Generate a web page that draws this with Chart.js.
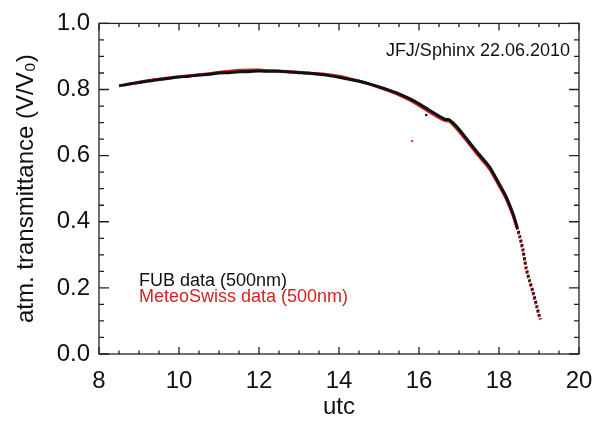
<!DOCTYPE html>
<html>
<head>
<meta charset="utf-8">
<script src="https://cdn.jsdelivr.net/npm/chart.js@4.4.1/dist/chart.umd.min.js"></script>
<style>
  html, body { margin: 0; padding: 0; background: #fff; }
</style>
</head>
<body>
<canvas id="chartCanvas" width="613" height="424"></canvas>
<script>
// values
const utc = [8.5, 8.75, 9, 9.25, 9.5, 9.75, 10, 10.25, 10.5, 10.75, 11, 11.25, 11.5, 11.75,
  12, 12.25, 12.5, 12.75, 13, 13.25, 13.5, 13.75, 14, 14.25, 14.5, 14.75, 15, 15.25, 15.5, 15.75,
  16, 16.25, 16.5, 16.65, 16.75, 16.85, 17, 17.25, 17.5, 17.75, 18, 18.1, 18.2, 18.35, 18.45,
  18.52, 18.6, 18.68, 18.76, 18.85, 18.94, 19.03];
const fub = [0.811, 0.817, 0.821, 0.826, 0.830, 0.834, 0.838, 0.840, 0.844, 0.846, 0.850, 0.851, 0.854, 0.854,
  0.856, 0.855, 0.855, 0.853, 0.851, 0.849, 0.846, 0.842, 0.837, 0.831, 0.825, 0.817, 0.808, 0.798, 0.787, 0.773,
  0.757, 0.738, 0.720, 0.710, 0.709, 0.699, 0.680, 0.642, 0.604, 0.568, 0.516, 0.494, 0.470, 0.424, 0.385,
  0.356, 0.315, 0.260, 0.224, 0.188, 0.147, 0.105];
const meteo = [null, 0.816, 0.822, 0.827, 0.831, 0.835, 0.839, 0.842, 0.845, 0.848, 0.852, 0.855, 0.858, 0.859,
  0.859, 0.857, 0.856, 0.854, 0.852, 0.850, 0.848, 0.845, 0.840, 0.833, 0.826, 0.817, 0.807, 0.796, 0.784, 0.769,
  0.752, 0.733, 0.715, 0.706, 0.704, 0.694, 0.674, 0.636, 0.598, 0.562, 0.510, 0.488, 0.464, 0.419, 0.381,
  0.352, 0.311, 0.256, 0.221, 0.185, 0.144, 0.103];
const fubStrayUtc = [16.18];
const fubStrayVal = [0.723];
const meteoStrayUtc = [15.83];
const meteoStrayVal = [0.644];

const xTicks = [8, 10, 12, 14, 16, 18, 20];
const yTicks = [0.0, 0.2, 0.4, 0.6, 0.8, 1.0];
const seriesNames = ['FUB data (500nm)', 'MeteoSwiss data (500nm)'];
const siteLabel = 'JFJ/Sphinx 22.06.2010';

const FONT = '"Liberation Sans", Arial, Helvetica, sans-serif';
const BLACK = '#111';
const RED = '#d42222';

const pts = (xs, ys) => xs.map((x, i) => ({ x, y: ys[i] }));
const tailDash = ctx => ctx.p0.parsed.x >= 18.45 ? [2, 2.5] : undefined;

// box, inward ticks and text labels
const frame = {
  id: 'frame',
  afterDraw(chart) {
    const { ctx, chartArea: a, scales: { x, y } } = chart;
    ctx.save();
    ctx.strokeStyle = '#222';
    ctx.lineWidth = 1.3;
    ctx.strokeRect(a.left, a.top, a.right - a.left, a.bottom - a.top);
    ctx.beginPath();
    for (let i = 0; i <= 24; i++) {
      const px = x.getPixelForValue(8 + i * 0.5);
      const len = i % 4 === 0 ? 7 : 3.5;
      ctx.moveTo(px, a.bottom); ctx.lineTo(px, a.bottom - len);
      ctx.moveTo(px, a.top); ctx.lineTo(px, a.top + len);
    }
    for (let i = 0; i <= 20; i++) {
      const py = y.getPixelForValue(i * 0.05);
      const len = i % 4 === 0 ? 10 : 5;
      ctx.moveTo(a.left, py); ctx.lineTo(a.left + len, py);
      ctx.moveTo(a.right, py); ctx.lineTo(a.right - len, py);
    }
    ctx.stroke();

    ctx.font = '18px ' + FONT;
    ctx.textBaseline = 'middle';
    ctx.fillStyle = BLACK;
    ctx.textAlign = 'right';
    ctx.fillText(siteLabel, a.right - 9, a.top + 28);
    ctx.textAlign = 'left';
    ctx.fillText(seriesNames[0], a.left + 40, 281);
    ctx.fillStyle = RED;
    ctx.fillText(seriesNames[1], a.left + 40, 297);
    ctx.restore();
  }
};

const ctx = document.getElementById('chartCanvas').getContext('2d');
new Chart(ctx, {
  type: 'line',
  data: {
    datasets: [
      { label: seriesNames[0], data: pts(utc, fub), borderColor: BLACK, borderWidth: 3,
        pointRadius: 0, tension: 0.2, segment: { borderDash: tailDash } },
      { type: 'scatter', data: pts(fubStrayUtc, fubStrayVal), pointRadius: 1.3,
        pointBackgroundColor: BLACK, pointBorderWidth: 0 },
      { label: seriesNames[1], data: pts(utc, meteo), borderColor: RED, borderWidth: 3,
        pointRadius: 0, tension: 0.2, spanGaps: true, segment: { borderDash: tailDash } },
      { type: 'scatter', data: pts(meteoStrayUtc, meteoStrayVal), pointRadius: 1.2,
        pointBackgroundColor: RED, pointBorderWidth: 0 }
    ]
  },
  options: {
    responsive: false,
    animation: false,
    layout: { padding: { top: 14, right: 34, left: 0, bottom: 0 } },
    plugins: { legend: { display: false }, tooltip: { enabled: false } },
    scales: {
      x: {
        type: 'linear', min: 8, max: 20,
        afterFit: s => { s.height = 70; },
        afterBuildTicks: s => { s.ticks = xTicks.map(v => ({ value: v })); },
        grid: { display: false, drawTicks: false },
        border: { display: false },
        ticks: { font: { size: 24, family: FONT }, color: BLACK, padding: 13, maxRotation: 0 },
        title: { display: true, text: 'utc', font: { size: 24, family: FONT }, color: BLACK,
          padding: { top: 0, bottom: 2 } }
      },
      y: {
        min: 0, max: 1,
        afterFit: s => { s.width = 99; },
        afterBuildTicks: s => { s.ticks = yTicks.map(v => ({ value: v })); },
        grid: { display: false, drawTicks: false },
        border: { display: false },
        ticks: { font: { size: 24, family: FONT }, color: BLACK, padding: 9,
          callback: v => Number(v).toFixed(1) },
        title: { display: true, text: 'atm. transmittance (V/V\u2080)', font: { size: 24, family: FONT },
          color: BLACK, padding: { top: 12, bottom: 0 } }
      }
    }
  },
  plugins: [frame]
});
</script>
</body>
</html>
